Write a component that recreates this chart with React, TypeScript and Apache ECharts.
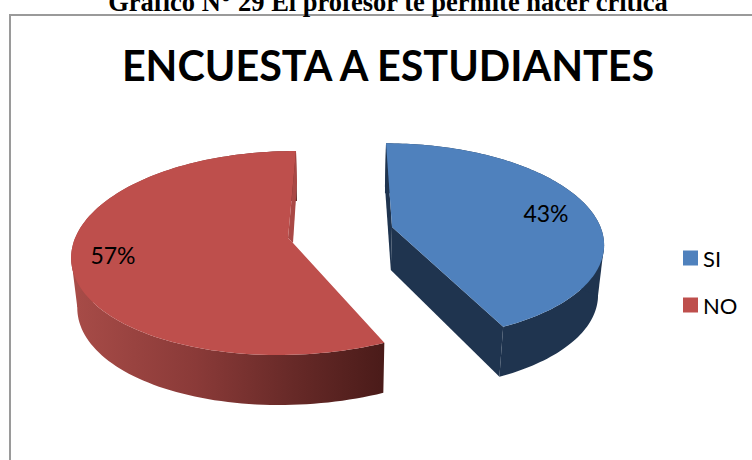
import React, { useEffect, useRef } from "react";
import * as echarts from "echarts";

const categories = ["SI", "NO"];
const values = [43, 57];
const faceColors = ["#4F81BD", "#BE4F4C"];
const titleText = "ENCUESTA A ESTUDIANTES";
const captionText = "Gráfico N° 29 El profesor te permite hacer crítica";

const VP_X = 340;
const BOTTOM_SHRINK = 0.977;
const OUTER_DEPTH = 50;
const APEX_DEPTH = 43;

type SliceLayout = {
  ax: number; ay: number; a: number; b: number; k: number; s: number; q: number;
  labelX: number; labelY: number;
};
const layouts: SliceLayout[] = [
  { ax: 392, ay: 227, a: 208.5, b: 95.8, k: 0.145, s: 8.07, q: 2.07, labelX: 546, labelY: 213 },
  { ax: 293, ay: 241, a: 219, b: 100.6, k: 0.1176, s: -8.97, q: -5.97, labelX: 113, labelY: 255 },
];

const total = values.reduce((p, c) => p + c, 0);

function project(l: SliceLayout, deg: number) {
  const t = (deg * Math.PI) / 180;
  const u = Math.sin(t);
  const v = -Math.cos(t);
  const w = 1 - l.k * v;
  return {
    x: l.ax + (l.a * u) / w + l.s * v + l.q * v * v,
    y: l.ay + (l.b * v) / w,
  };
}
function lower(x: number, y: number, depth: number): number[] {
  return [VP_X + (x - VP_X) * BOTTOM_SHRINK, y + depth];
}

function arcPoints(l: SliceLayout, from: number, to: number) {
  const pts: { x: number; y: number }[] = [];
  const n = 120;
  for (let i = 0; i <= n; i++) pts.push(project(l, from + ((to - from) * i) / n));
  return pts;
}

// Index of the arc point farthest from the vanishing line: where the side wall's silhouette runs.
function extremeIndex(top: number[][]) {
  let best = 0;
  top.forEach((p, i) => {
    if (Math.abs(p[0] - VP_X) > Math.abs(top[best][0] - VP_X)) best = i;
  });
  return best;
}

function makeRender(index: number) {
  const before = values.slice(0, index).reduce((p, c) => p + c, 0);
  return (_params: any, api: any) => {
    const l = layouts[index];
    const value = api.value(0);
    const from = (before / total) * 360;
    const to = from + (value / total) * 360;
    const arc = arcPoints(l, from, to);
    const top = arc.map((p) => [p.x, p.y]);
    const bottom = arc.map((p) => lower(p.x, p.y, OUTER_DEPTH));
    const outer = top.concat(bottom.slice().reverse());
    const apexB = lower(l.ax, l.ay, APEX_DEPTH);
    const e = extremeIndex(top);
    const edge = [top[e], bottom[e], [l.ax, l.ay]];
    const children: any[] = [];
    if (index === 0) {
      const wall = "#1F344F";
      children.push({ type: "polygon", shape: { points: outer }, style: { fill: wall } });
      children.push({ type: "polygon", shape: { points: edge }, style: { fill: wall } });
      children.push({
        type: "polygon",
        shape: { points: [[l.ax, l.ay], top[top.length - 1], bottom[bottom.length - 1], apexB] },
        style: { fill: wall },
      });
      children.push({
        type: "polygon",
        shape: { points: [top[0], [l.ax, l.ay], apexB, lower(top[0][0], top[0][1], APEX_DEPTH)] },
        style: { fill: wall },
      });
      children.push({
        type: "polygon",
        shape: { points: [[l.ax, l.ay], ...top] },
        style: { fill: faceColors[0] },
      });
    } else {
      children.push({ type: "polygon", shape: { points: edge }, style: { fill: "#A84C48" } });
      children.push({
        type: "polygon",
        shape: { points: outer.filter((p) => p[0] <= top[0][0] + 1) },
        style: {
          fill: new echarts.graphic.LinearGradient(0, 0, 1, 0, [
            { offset: 0, color: "#A84C48" },
            { offset: 0.4, color: "#8A3A38" },
            { offset: 0.7, color: "#682A28" },
            { offset: 1, color: "#4A1B19" },
          ]),
        },
      });
      const end = top[top.length - 1];
      const notch = [l.ax - 5, l.ay - 3];
      children.push({
        type: "polygon",
        shape: { points: [end, [end[0] + 1, end[1] + 32], [l.ax, l.ay + 2], notch] },
        style: { fill: "#A94845" },
      });
      children.push({
        type: "polygon",
        shape: { points: [[l.ax, l.ay + 2], notch, ...top.slice().reverse()] },
        style: { fill: faceColors[1] },
      });
    }
    children.push({
      type: "text",
      style: {
        text: Math.round((value / total) * 100) + "%",
        x: l.labelX,
        y: l.labelY,
        align: "center",
        verticalAlign: "middle",
        fill: "#000",
        font: "23px Lato",
      },
    });
    return { type: "group", children };
  };
}

export default function App() {
  const ref = useRef<HTMLDivElement>(null);
  useEffect(() => {
    const chart = echarts.init(ref.current!, undefined, { renderer: "svg" });
    chart.setOption({
      animation: false,
      backgroundColor: "#fff",
      title: {
        text: titleText,
        left: 383,
        top: 39,
        textAlign: "center",
        textStyle: { fontFamily: "Lato", fontWeight: "bold", fontSize: 41.3, color: "#000" },
      },
      legend: {
        data: categories,
        left: 683,
        top: 247,
        padding: 0,
        orient: "vertical",
        icon: "rect",
        itemWidth: 15,
        itemHeight: 15,
        itemGap: 25,
        selectedMode: false,
        textStyle: { fontFamily: "Lato", fontSize: 22, color: "#000" },
      },
      graphic: [
        {
          type: "polyline",
          silent: true,
          shape: { points: [[10, 460], [10, 15], [752, 15]] },
          style: { stroke: "#9A9A9A", lineWidth: 2, fill: "none" },
        },
        {
          type: "text",
          x: 388,
          y: -12,
          style: {
            text: captionText,
            align: "center",
            verticalAlign: "top",
            fill: "#000",
            font: "bold 26.5px 'Liberation Serif'",
          },
        },
      ],
      series: categories.map((name, i) => ({
        type: "custom",
        name,
        coordinateSystem: "none",
        data: [[values[i]]],
        itemStyle: { color: faceColors[i] },
        renderItem: makeRender(i),
      })),
    });
    return () => chart.dispose();
  }, []);
  return <div ref={ref} style={{ position: "absolute", left: 0, top: 0, width: 752, height: 460 }} />;
}
